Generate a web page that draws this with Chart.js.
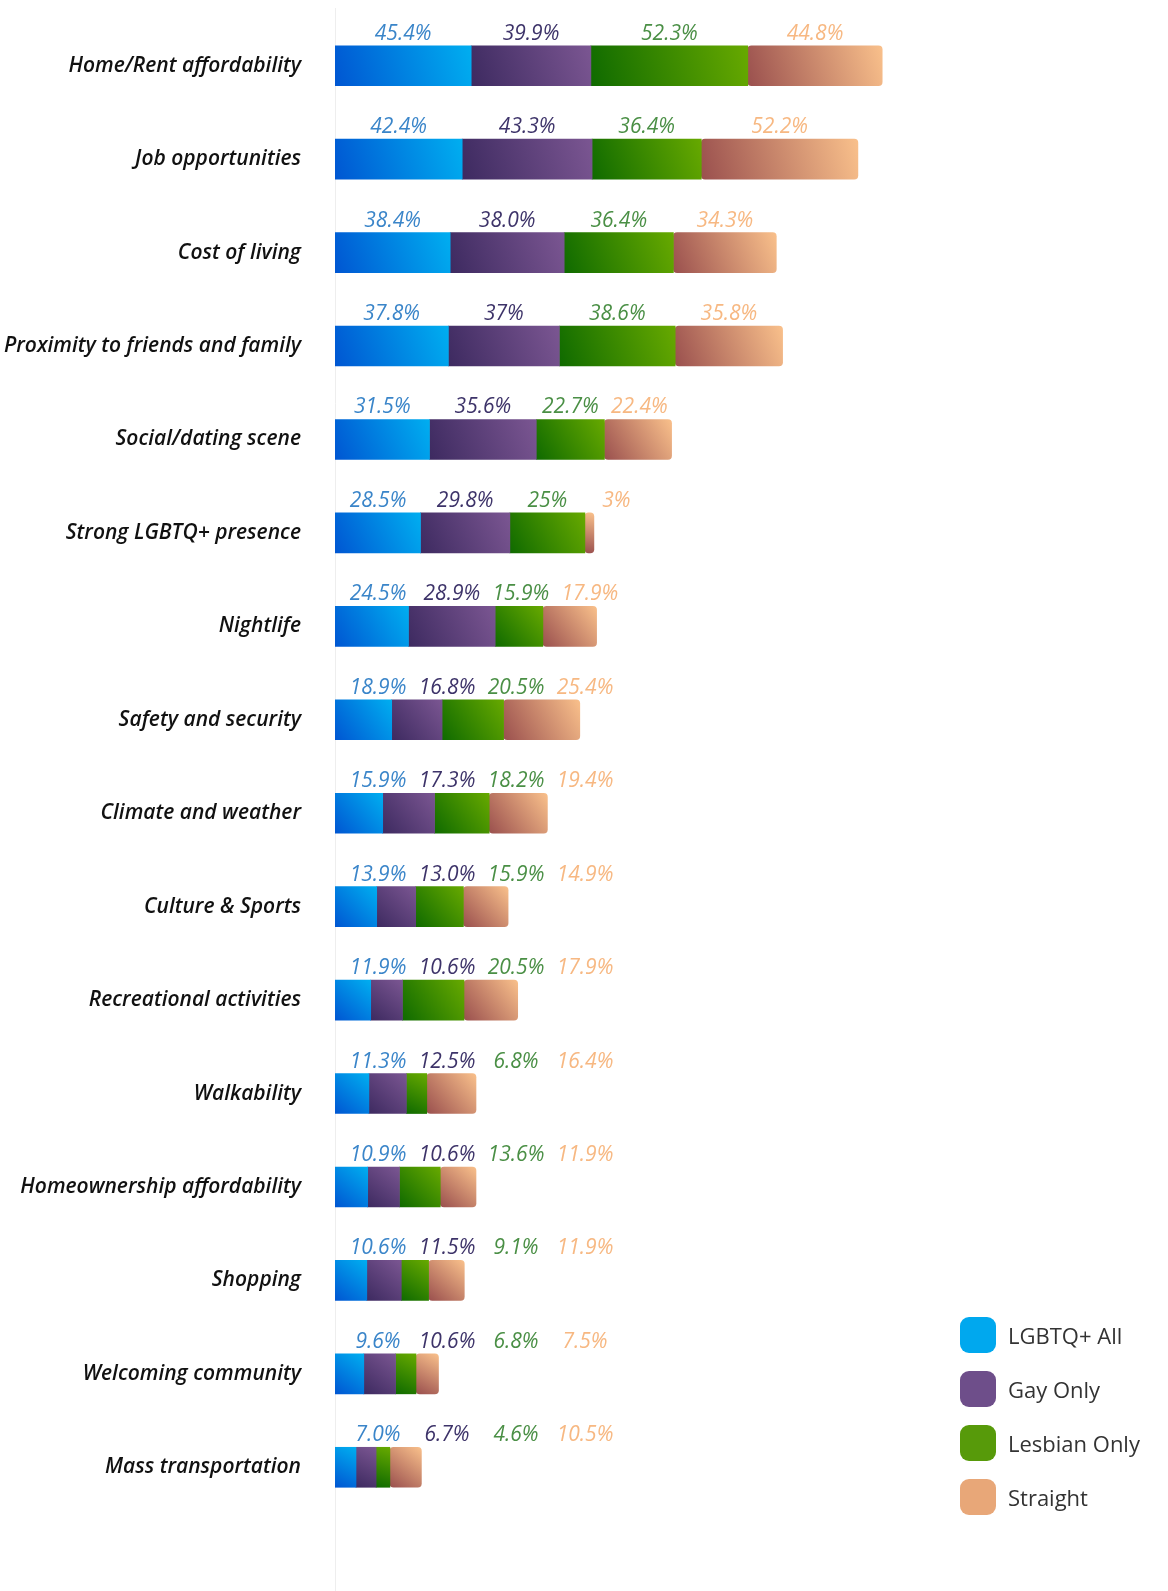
<!DOCTYPE html>
<html lang="en">
  <head>
    <title>Reasons for choosing where to live</title>
    <style>
      body { margin: 0; background: #fff; }
      #wrap { position: relative; width: 1168px; height: 1591px; }
      #legend { position: absolute; left: 960px; top: 1317px; font-family: "Open Sans", sans-serif; font-size: 22px; color: #333; }
      #legend div { display: flex; align-items: center; height: 36px; margin-bottom: 18px; }
      #legend span.sw { width: 36px; height: 36px; border-radius: 9px; margin-right: 12px; display: inline-block; }
    </style>
  </head>
  <body>
    <div id="wrap">
      <canvas id="chart"></canvas>
      <div id="legend"></div>
    </div>
    <script src="https://cdn.jsdelivr.net/npm/chart.js@4.4.1/dist/chart.umd.min.js"></script>
    <script>
      const categories = [
        "Home/Rent affordability", "Job opportunities", "Cost of living",
        "Proximity to friends and family", "Social/dating scene", "Strong LGBTQ+ presence",
        "Nightlife", "Safety and security", "Climate and weather", "Culture & Sports",
        "Recreational activities", "Walkability", "Homeownership affordability",
        "Shopping", "Welcoming community", "Mass transportation"
      ]
      // values kept as strings so the labels keep their printed form (37%, 38.0% ...)
      const lgbtqAll = ["45.4", "42.4", "38.4", "37.8", "31.5", "28.5", "24.5", "18.9", "15.9", "13.9", "11.9", "11.3", "10.9", "10.6", "9.6", "7.0"]
      const gayOnly = ["39.9", "43.3", "38.0", "37", "35.6", "29.8", "28.9", "16.8", "17.3", "13.0", "10.6", "12.5", "10.6", "11.5", "10.6", "6.7"]
      const lesbianOnly = ["52.3", "36.4", "36.4", "38.6", "22.7", "25", "15.9", "20.5", "18.2", "15.9", "20.5", "6.8", "13.6", "9.1", "6.8", "4.6"]
      const straight = ["44.8", "52.2", "34.3", "35.8", "22.4", "3", "17.9", "25.4", "19.4", "14.9", "17.9", "16.4", "11.9", "11.9", "7.5", "10.5"]

      const seriesNames = ["LGBTQ+ All", "Gay Only", "Lesbian Only", "Straight"]
      const seriesData = [lgbtqAll, gayOnly, lesbianOnly, straight]
      const gradStops = [["#0056d2", "#00aef0"], ["#3d2a60", "#7b5692"], ["#0f6a00", "#67a900"], ["#9a504e", "#f9c08b"]]
      const labelColors = ["#3a85c9", "#3d3369", "#4a8f45", "#f7b882"]
      const swatchColors = ["#00a8ee", "#6e4e8a", "#579a0a", "#e8a778"]

      const legendEl = document.getElementById("legend")
      seriesNames.forEach((name, i) => {
        const row = document.createElement("div")
        row.innerHTML = '<span class="sw" style="background:' + swatchColors[i] + '"></span>' + name
        legendEl.appendChild(row)
      })

      function segmentGradient(context, d) {
        const chart = context.chart
        if (!chart.chartArea || context.type !== "data") return gradStops[d][1]
        const i = context.dataIndex
        let start = 0
        for (let k = 0; k < d; k++) start += parseFloat(seriesData[k][i])
        const end = start + parseFloat(seriesData[d][i])
        const x0 = chart.scales.x.getPixelForValue(start)
        const x1 = chart.scales.x.getPixelForValue(end)
        const y = chart.scales.y.getPixelForValue(i)
        const g = chart.ctx.createLinearGradient(x0, y + 20, x1, y - 20)
        g.addColorStop(0, gradStops[d][0])
        g.addColorStop(1, gradStops[d][1])
        return g
      }

      const axisLine = {
        id: "axisLine",
        beforeDatasetsDraw(chart) {
          const ctx = chart.ctx
          const x = Math.round(chart.chartArea.left) + 0.5
          ctx.save()
          ctx.strokeStyle = "#eeeeee"
          ctx.lineWidth = 1
          ctx.beginPath()
          ctx.moveTo(x, 8)
          ctx.lineTo(x, chart.height)
          ctx.stroke()
          ctx.restore()
        }
      }

      const segLabels = {
        id: "segLabels",
        afterDatasetsDraw(chart) {
          const ctx = chart.ctx
          ctx.save()
          ctx.font = "italic 500 21px 'Open Sans'"
          ctx.textAlign = "center"
          ctx.textBaseline = "alphabetic"
          categories.forEach((c, i) => {
            let prev = -Infinity
            seriesData.forEach((arr, d) => {
              const el = chart.getDatasetMeta(d).data[i]
              let cx = (el.x + el.base) / 2
              cx = Math.max(cx, prev + 69, chart.chartArea.left + 43)
              prev = cx
              ctx.fillStyle = labelColors[d]
              ctx.fillText(arr[i] + "%", cx, el.y - 26)
            })
          })
          ctx.restore()
        }
      }

      new Chart(document.getElementById("chart"), {
        type: "bar",
        data: {
          labels: categories,
          datasets: seriesData.map((arr, d) => ({
            label: seriesNames[d],
            data: arr,
            backgroundColor: ctx => segmentGradient(ctx, d),
            borderRadius: 4,
            borderSkipped: false,
            barThickness: 40
          }))
        },
        options: {
          indexAxis: "y",
          responsive: true,
          maintainAspectRatio: false,
          animation: false,
          layout: { padding: { top: 19, bottom: 77, right: 35, left: 0 } },
          plugins: { legend: { display: false }, tooltip: { enabled: false } },
          scales: {
            x: { stacked: true, min: 0, max: 266, display: false },
            y: {
              stacked: true,
              grid: { display: false, drawTicks: false },
              border: { display: false },
              afterFit: scale => {
                scale.width = 335
                scale.paddingTop = 0
                scale.paddingBottom = 0
              },
              ticks: {
                padding: 34,
                color: "#111",
                font: { family: "'Open Sans'", size: 21, style: "italic", weight: 600 }
              }
            }
          }
        },
        plugins: [axisLine, segLabels]
      })
    </script>
  </body>
</html>
